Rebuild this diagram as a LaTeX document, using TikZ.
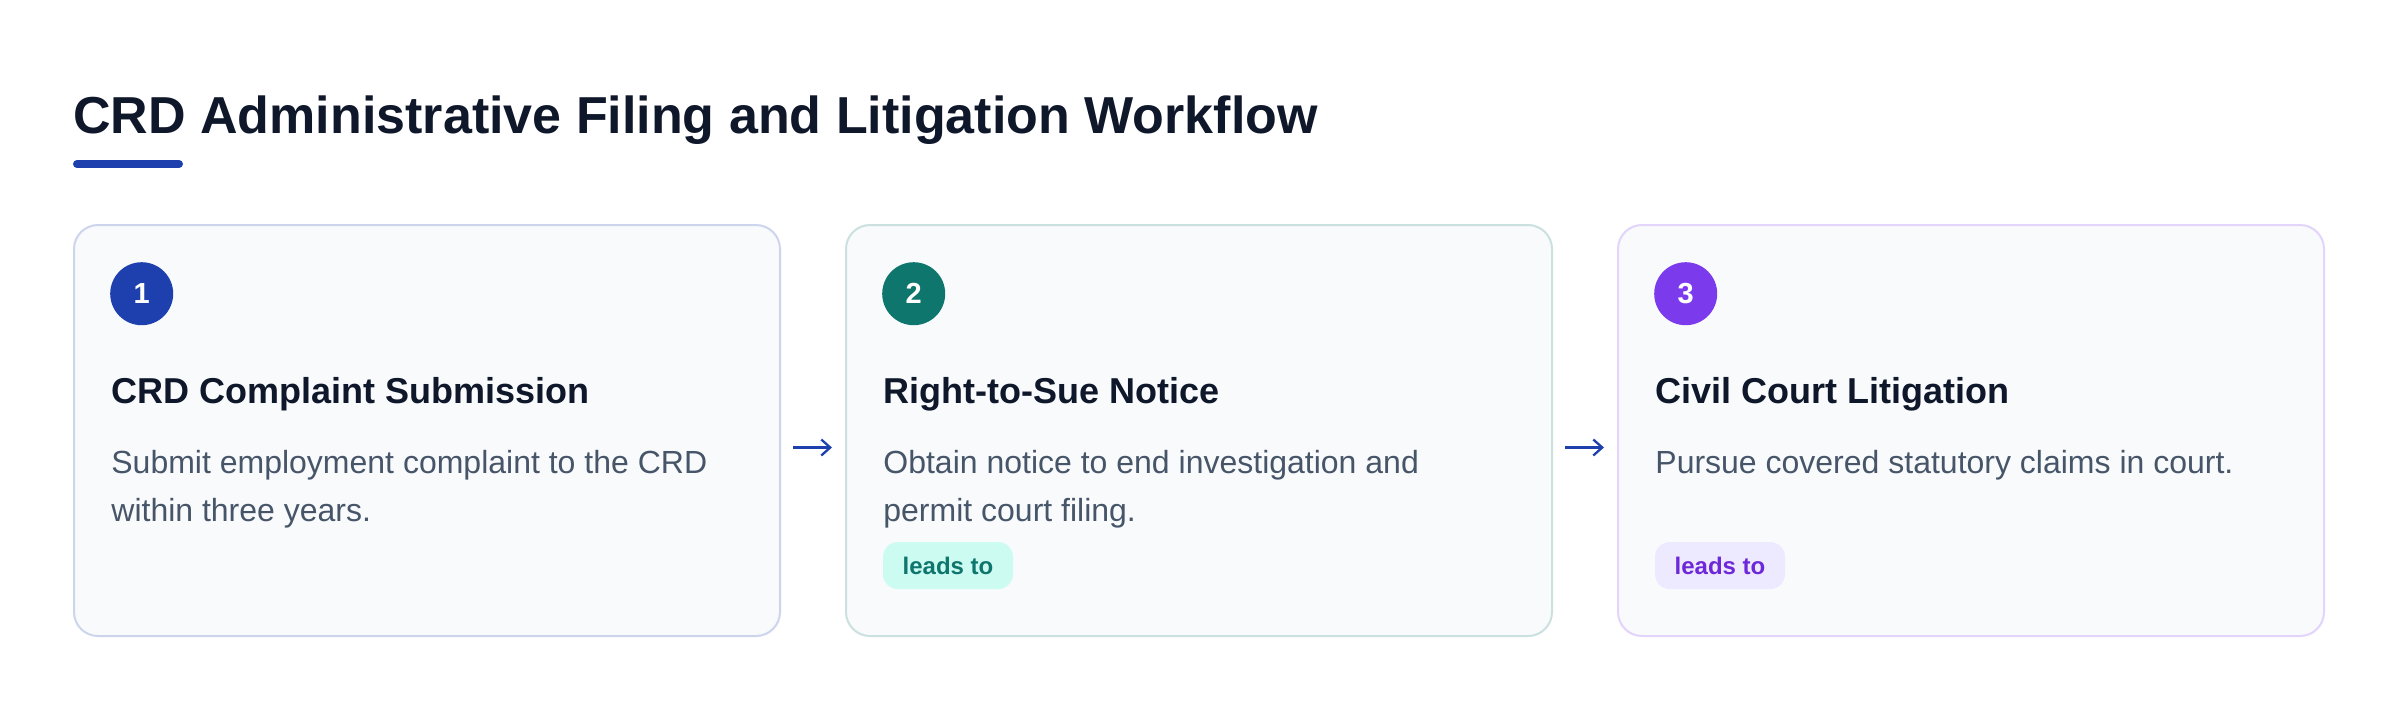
\documentclass[tikz,border=0pt]{standalone}
\usepackage{fontspec}
\setmainfont{Liberation Sans}
\usetikzlibrary{arrows.meta,calc}
\definecolor{ink}{HTML}{0F172A}
\definecolor{slate}{HTML}{475569}
\definecolor{cardbg}{HTML}{F8FAFC}
\definecolor{cblue}{HTML}{1E40AF}
\definecolor{cteal}{HTML}{0F766E}
\definecolor{cviolet}{HTML}{7C3AED}
\definecolor{tealbg}{HTML}{CCFBF1}
\definecolor{violetbg}{HTML}{EDE9FE}
\definecolor{violettx}{HTML}{6D28D9}
\begin{document}
\begin{tikzpicture}[x=0.5pt,y=-0.5pt,
  card/.style={draw, line width=1pt, fill=cardbg, rounded corners=12pt,
    minimum width=353pt, minimum height=205.5pt, anchor=north west, inner sep=0pt},
  numdot/.style={circle, inner sep=0pt, minimum size=31.5pt, text=white,
    font=\bfseries\fontsize{14.5}{17}\selectfont},
  head/.style={anchor=base west, inner sep=0pt, text=ink,
    font=\bfseries\fontsize{18}{22}\selectfont},
  desc/.style={anchor=base west, inner sep=0pt, text=slate,
    font=\fontsize{16}{24}\selectfont},
  badge/.style={rounded corners=7.5pt, minimum width=65pt, minimum height=23.5pt,
    inner sep=0pt, text height=9pt, text depth=0pt,
    font=\bfseries\fontsize{12}{14}\selectfont},
  arr/.style={draw=cblue, line width=1.15pt, -{Straight Barb[length=4.5pt,width=8pt]},
    shorten <=6pt, shorten >=6.5pt}]
\fill[white] (0,0) rectangle (2400,708);
\useasboundingbox (0,0) rectangle (2400,708);

% title
\node[anchor=base west, inner sep=0pt, text=ink,
  font=\bfseries\fontsize{26}{30}\selectfont] (title) at (73,133)
  {CRD Administrative Filing and Litigation Workflow};
\draw[cblue, line width=4pt, line cap=round] (77,164) -- (179,164);

% cards
\node[card, draw=cblue!22!white] (c1) at (73,224) {};
\node[card, draw=cteal!22!white] (c2) at (845,224) {};
\node[card, draw=cviolet!22!white] (c3) at (1617,224) {};

% numbers
\node[numdot, fill=cblue] (n1) at (141.7,293.7) {1};
\node[numdot, fill=cteal] (n2) at (913.7,293.7) {2};
\node[numdot, fill=cviolet] (n3) at (1685.7,293.7) {3};

% headings
\node[head] (h1) at (111,403) {CRD Complaint Submission};
\node[head] (h2) at (883,403) {Right-to-Sue Notice};
\node[head] (h3) at (1655,403) {Civil Court Litigation};

% descriptions
\node[desc] (d1a) at (111,473) {Submit employment complaint to the CRD};
\node[desc] (d1b) at (111,521) {within three years.};
\node[desc] (d2a) at (883,473) {Obtain notice to end investigation and};
\node[desc] (d2b) at (883,521) {permit court filing.};
\node[desc] (d3a) at (1655,473) {Pursue covered statutory claims in court.};

% badges
\node[badge, fill=tealbg, text=cteal] (b2) at (948,565.5) {leads to};
\node[badge, fill=violetbg, text=violettx] (b3) at (1720,565.5) {leads to};

% connectors
\draw[arr] ($(c1.east)+(0,17)$) -- ($(c2.west)+(0,17)$);
\draw[arr] ($(c2.east)+(0,17)$) -- ($(c3.west)+(0,17)$);
\end{tikzpicture}
\end{document}
